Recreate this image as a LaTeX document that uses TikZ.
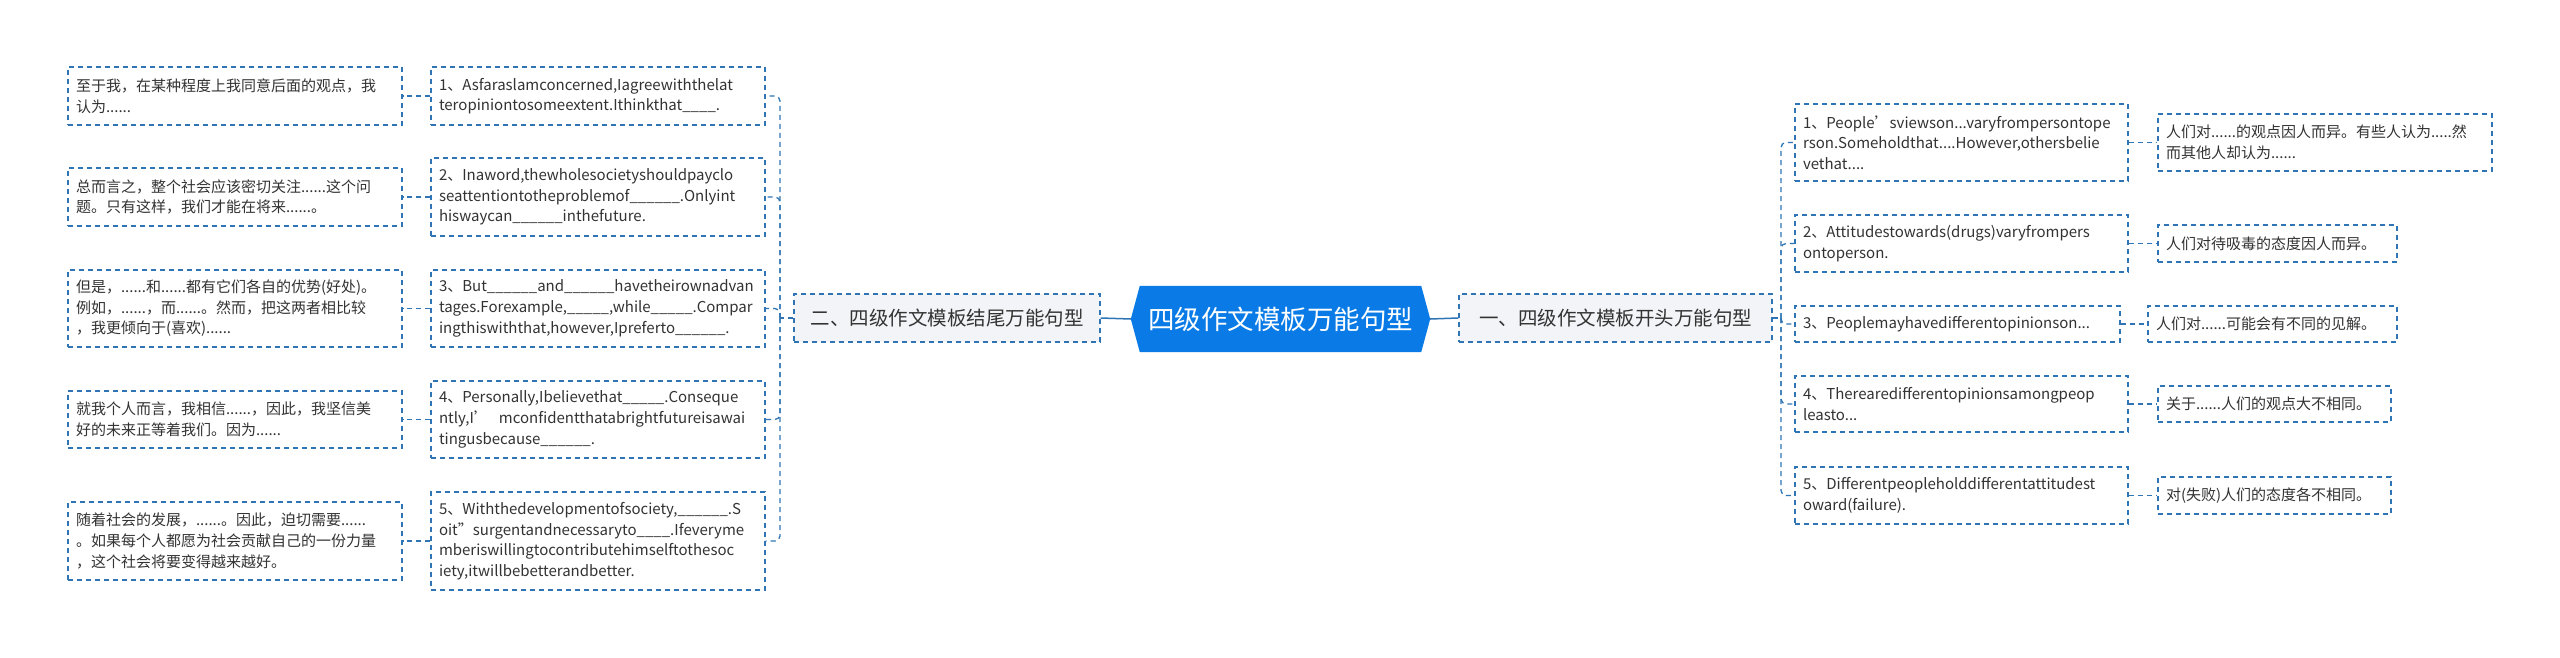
\documentclass[tikz,border=0pt]{standalone}
\usepackage{fontspec}
\setmainfont{Noto Sans CJK SC}
\usetikzlibrary{calc,backgrounds}
\definecolor{bl}{HTML}{2F75B5}
\definecolor{cfill}{HTML}{0A7BE6}
\definecolor{gfill}{HTML}{F2F4F7}
\definecolor{tx}{HTML}{333333}
\tikzset{x=1pt,y=-1pt,
 box/.style={draw=bl,line width=1.3pt,dash pattern=on 5pt off 4pt,align=left,inner xsep=8pt,inner ysep=0pt,font=\fontsize{15}{20.6}\selectfont,text=tx,anchor=center},
 conn/.style={draw=bl,line width=1.3pt,dash pattern=on 5pt off 4pt,rounded corners=5pt},
 lvone/.style={box,fill=gfill,align=center,font=\fontsize{19.5}{24}\selectfont},
}
\newcommand{\bx}[6]{\node[box,text width=#4-16,minimum height=#5] (#1) at (#2,#3) {#6};}
\begin{document}
\begin{tikzpicture}
\useasboundingbox (0,0) rectangle (2560,658);
% center
\node[text=white,font=\fontsize{26.5}{30}\selectfont,minimum width=299,minimum height=66,inner sep=0] (c) at (1280.5,319) {四级作文模板万能句型};
\begin{scope}[on background layer]
\fill[white] (0,0) rectangle (2560,658);
\fill[cfill] ($(c.north west)+(9,0)$) -- ($(c.north east)+(-9,0)$) -- (c.east) -- ($(c.south east)+(-9,0)$) -- ($(c.south west)+(9,0)$) -- (c.west) -- cycle;
\end{scope}
\node[lvone,minimum width=306,minimum height=48] (l1) at (947,318) {二、四级作文模板结尾万能句型};
\node[lvone,minimum width=313,minimum height=48] (r1) at (1615.5,318) {一、四级作文模板开头万能句型};
\draw[bl,line width=1.5pt] (c.west) -- (l1.east);
\draw[bl,line width=1.5pt] (c.east) -- (r1.west);
% left english
\bx{E1}{598}{96}{334}{58}{1、Asfaraslamconcerned,Iagreewiththelat\\teropiniontosomeextent.Ithinkthat\_\_\_\_.}
\bx{E2}{598}{197}{334}{78}{2、Inaword,thewholesocietyshouldpayclo\\seattentiontotheproblemof\_\_\_\_\_\_.Onlyint\\hiswaycan\_\_\_\_\_\_inthefuture.}
\bx{E3}{598}{308.5}{334}{77}{3、But\_\_\_\_\_\_and\_\_\_\_\_\_havetheirownadvan\\tages.Forexample,\_\_\_\_\_,while\_\_\_\_\_.Compar\\ingthiswiththat,however,Ipreferto\_\_\_\_\_\_.}
\bx{E4}{598}{419.5}{334}{77}{4、Personally,Ibelievethat\_\_\_\_\_.Conseque\\ntly,I’\ \ mconfidentthatabrightfutureisawai\\tingusbecause\_\_\_\_\_\_.}
\bx{E5}{598}{541}{334}{98}{5、Withthedevelopmentofsociety,\_\_\_\_\_\_.S\\oit"surgentandnecessaryto\_\_\_\_.Ifeveryme\\mberiswillingtocontributehimselftothesoc\\iety,itwillbebetterandbetter.}
% left chinese
\bx{L1}{235}{96}{334}{58}{至于我，在某种程度上我同意后面的观点，我\\认为......}
\bx{L2}{235}{197}{334}{58}{总而言之，整个社会应该密切关注......这个问\\题。只有这样，我们才能在将来......。}
\bx{L3}{235}{308.5}{334}{77}{但是，......和......都有它们各自的优势(好处)。\\例如，......，而......。然而，把这两者相比较\\，我更倾向于(喜欢)......}
\bx{L4}{235}{419.5}{334}{57}{就我个人而言，我相信......，因此，我坚信美\\好的未来正等着我们。因为......}
\bx{L5}{235}{541}{334}{78}{随着社会的发展，......。因此，迫切需要......\\。如果每个人都愿为社会贡献自己的一份力量\\，这个社会将要变得越来越好。}
% right english
\bx{R1}{1961.5}{142.5}{333}{77}{1、People'sviewson...varyfrompersontope\\rson.Someholdthat....However,othersbelie\\vethat....}
\bx{R2}{1961.5}{243.5}{333}{57}{2、Attitudestowards(drugs)varyfrompers\\ontoperson.}
\bx{R3}{1957.5}{324}{325}{36}{3、Peoplemayhavedifferentopinionson...}
\bx{R4}{1961.5}{404}{333}{56}{4、Therearedifferentopinionsamongpeop\\leasto...}
\bx{R5}{1961.5}{495.5}{333}{57}{5、Differentpeopleholddifferentattitudest\\oward(failure).}
% right chinese
\bx{C1}{2325}{142.5}{334}{57}{人们对......的观点因人而异。有些人认为.....然\\而其他人却认为......}
\bx{C2}{2277.5}{243.5}{239}{37}{人们对待吸毒的态度因人而异。}
\bx{C3}{2272.5}{324}{249}{36}{人们对......可能会有不同的见解。}
\bx{C4}{2274.5}{404}{233}{36}{关于......人们的观点大不相同。}
\bx{C5}{2274.5}{495.5}{233}{37}{对(失败)人们的态度各不相同。}
% connectors
\coordinate (tL) at (780,318);
\coordinate (tR) at (1781,318);
\draw[conn] (l1.west) -- (tL);
\draw[conn] (r1.east) -- (tR);
\foreach \n in {E1,E2,E3,E4,E5}{\draw[conn] (tL) -- (tL |- \n.east) -- (\n.east);}
\foreach \n in {R1,R2,R3,R4,R5}{\draw[conn] (tR) -- (tR |- \n.west) -- (\n.west);}
\draw[conn] (E1.west) -- (L1.east);
\draw[conn] (E2.west) -- (L2.east);
\draw[conn] (E3.west) -- (L3.east);
\draw[conn] (E4.west) -- (L4.east);
\draw[conn] (E5.west) -- (L5.east);
\draw[conn] (R1.east) -- (C1.west);
\draw[conn] (R2.east) -- (C2.west);
\draw[conn] (R3.east) -- (C3.west);
\draw[conn] (R4.east) -- (C4.west);
\draw[conn] (R5.east) -- (C5.west);
\end{tikzpicture}
\end{document}
